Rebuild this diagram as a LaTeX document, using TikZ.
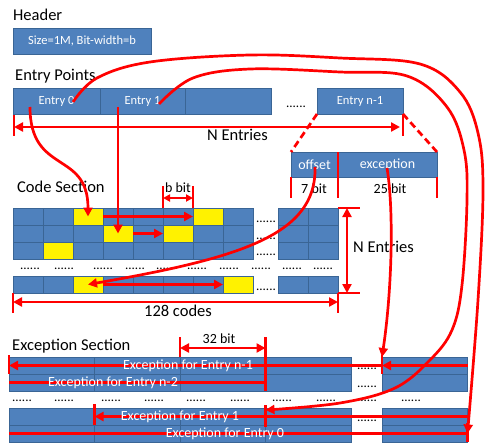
\documentclass[tikz,border=0pt]{standalone}
\usepackage{fontspec}
\setmainfont{Carlito}
\usepackage{tikz}
\usetikzlibrary{arrows.meta, positioning}

\definecolor{boxblue}{HTML}{4F81BD}
\definecolor{boxedge}{HTML}{3A6595}

\tikzset{
  block/.style={draw=boxedge, line width=0.8pt, fill=boxblue, text=white,
    inner sep=0pt, outer sep=0pt, font=\fontsize{12.5}{13}\selectfont},
  cell/.style={block, anchor=north west, minimum width=30pt, minimum height=17pt},
  hit/.style={cell, fill=yellow},
  excell/.style={block, anchor=north west, minimum width=85.5pt, minimum height=17pt},
  seclabel/.style={anchor=base west, inner sep=0pt, font=\fontsize{16.5}{18}\selectfont},
  bitlabel/.style={anchor=base, inner sep=0pt, font=\fontsize{14}{15}\selectfont},
  dotrow/.style={anchor=base, inner sep=0pt, font=\fontsize{13}{13}\selectfont},
  extext/.style={text=white, inner sep=0pt, font=\fontsize{14}{15}\selectfont},
  redline/.style={draw=red, line width=2.7pt},
  redarrow/.style={redline, ->},
  redboth/.style={redline, <->},
}

\begin{document}
\begin{tikzpicture}[x=1pt, y=-1pt, >={Triangle[length=9pt,width=9pt]}]
\useasboundingbox (0,0) rectangle (487,444);

% Header
\node[seclabel] (hdrlbl) at (13,21) {Header};
\node[block, minimum width=138pt, minimum height=26pt] (hdr) at (82,41) {Size=1M, Bit-width=b};

% Entry points
\node[seclabel] (eplbl) at (15,81) {Entry Points};
\node[block, minimum width=87pt, minimum height=26pt] (e0) at (56.5,101) {Entry 0};
\node[block, minimum width=85pt, minimum height=26pt, right=0pt of e0] (e1) {Entry 1};
\node[block, minimum width=86pt, minimum height=26pt, right=0pt of e1] (e2) {};
\node[dotrow] (edots) at (296,107) {......};
\node[block, minimum width=86pt, minimum height=26pt] (en) at (360,101) {Entry n-1};

% N Entries span
\coordinate (nspanl) at (14,127);
\coordinate (nspanr) at (400,127);
\draw[redline] (e0.south west) ++(1,1) -- ++(0,21);
\draw[redline] (en.south east) -- ++(0,22);
\draw[redboth] (nspanl) -- (nspanr);
\node[seclabel] (nlbl) at (207,140) {N Entries};

% one entry = offset + exception
\node[block, minimum width=47pt, minimum height=25pt, font=\fontsize{14}{15}\selectfont] (off) at (314.5,164.5) {offset};
\node[block, minimum width=99pt, minimum height=25pt, font=\fontsize{14}{15}\selectfont, right=0pt of off] (exc) {exception};
\draw[redline, dash pattern=on 7pt off 4pt] (en.south west) -- (off.north west);
\draw[redline, dash pattern=on 7pt off 4pt] (en.south east) -- (exc.north east);
\draw[redline] (off.south west) -- ++(0,21);
\draw[redline] (off.north east) -- ++(0,46);
\draw[redline] (exc.south east) -- ++(0,21);
\node[bitlabel] (b7) at (314,193) {7 bit};
\node[bitlabel] (b25) at (390,193) {25 bit};

% Code section
\node[seclabel] (cslbl) at (17,192) {Code Section};
\foreach \r/\y in {1/208, 2/225, 3/242, 4/276} {
  \foreach \c in {1,...,8}
    \node[cell] (c\r-\c) at ({13+30*(\c-1)},\y) {};
  \node[cell] (c\r-9) at (278,\y) {};
  \node[cell] (c\r-10) at (308,\y) {};
}
\foreach \r/\c in {1/3, 1/7, 2/4, 2/6, 3/2, 4/3, 4/8}
  \node[hit] (h\r-\c) at (c\r-\c.north west) {};
\foreach \y in {222, 239, 255, 290}
  \node[dotrow] at (266,\y) {......};
\foreach \x in {30, 64, 103, 135, 166, 197, 229, 261, 292, 323}
  \node[dotrow] at (\x,269) {......};

% b bit
\draw[redline] (c1-6.north west) -- ++(0,-22);
\draw[redline] (c1-7.north west) -- ++(0,-22);
\draw[redboth, >={Triangle[length=7pt,width=7pt]}] ([yshift=10pt]c1-6.north west) -- ([yshift=10pt]c1-7.north west);
\node[bitlabel] (bb) at (178,192) {b bit};

% jumps inside rows
\draw[redarrow] (c1-4.west) -- (c1-7.west);
\draw[redarrow] (c2-5.west) -- (c2-6.west);
\draw[redarrow] (c4-4.west) -- (c4-8.west);

% N Entries (rows)
\draw[redline] (c1-10.north east) -- ++(22,0);
\draw[redline] (c4-10.south east) -- ++(22,0);
\draw[redboth] ([xshift=9pt]c1-10.north east) -- ([xshift=9pt]c4-10.south east);
\node[seclabel] (nrlbl) at (353,252) {N Entries};

% 128 codes
\draw[redline] (c4-1.south west) -- ++(0,20);
\draw[redline] (c4-10.south east) -- ++(0,20);
\draw[redboth] ([yshift=-9pt]c4-1.south west) -- ([yshift=-9pt]c4-10.south east);
\node[seclabel, anchor=base] (cdlbl) at (178,316) {128 codes};

% Exception section
\node[seclabel] (exlbl) at (12,350) {Exception Section};
\foreach \r/\y in {1/357, 2/374, 3/408, 4/425} {
  \foreach \c in {1,...,4}
    \node[excell] (x\r-\c) at ({9+85.5*(\c-1)},\y) {};
  \node[excell] (x\r-5) at (382,\y) {};
}
\foreach \y in {369, 387, 421}
  \node[dotrow] at (367,\y) {......};
\foreach \x in {22, 64, 111, 154, 196, 240, 282, 326, 367, 411}
  \node[dotrow] at (\x,401) {......};

% 32 bit
\draw[redline] (x1-3.north west) -- ++(0,-20);
\draw[redline] (x2-4.south west) -- ++(0,-54);
\draw[redboth] ([yshift=9pt]x1-3.north west) -- ([yshift=9pt]x1-4.north west);
\node[bitlabel] (b32) at (219,343) {32 bit};

% exception chains
\draw[redline] (x1-1.north west) ++(0,-2) -- (x1-1.south west);
\draw[redline] (x1-5.north west) ++(0,-2) -- (x1-5.south west);
\draw[redarrow] (x1-5.east) -- (x1-5.west);
\draw[redarrow] (x1-5.west) -- (x1-1.west);
\draw[redline] (x2-1.west) -- (x2-4.west);
\draw[redline] (x3-2.north west) ++(0,-4) -- (x3-2.south west);
\draw[redline] (x3-4.north west) ++(0,-3) -- ++(0,22);
\draw[redarrow] (x3-5.east) -- (x3-2.west);
\draw[redline] (x4-1.west) -- (x4-5.east);
\draw[redline] (x4-5.north east) ++(0,-2) -- (x4-5.south east);

% pointers from entries
\coordinate (e0code) at (30,107);
\coordinate (e0up) at (73,102);
\coordinate (e1code) at (118,107);
\coordinate (e1up) at (159,104);
\coordinate (offdn) at (315,167);
\coordinate (excdn) at (387,168);
\draw[redarrow] (e0code) .. controls (30,175) and (88,150) .. (c1-3.center);
\draw[redarrow] (e1code) -- (c2-4.center);
\draw[redarrow] (offdn) .. controls (317,235) and (240,258) .. (c4-3.center);
\draw[redarrow] (excdn) .. controls (394,210) and (392,290) .. (x1-5.north west);
\draw[redarrow] plot[smooth, tension=0.6] coordinates {(e0up) (97,78) (150,62) (250,55) (340,58) (420,64) (460,92) (478,133) (483,190) (478,300) (x4-5.east)};
\draw[redarrow] plot[smooth, tension=0.6] coordinates {(e1up) (193,78) (250,69) (340,72) (407,76) (447,107) (464,150) (467,200) (462,285) (452,330) (430,360) (395,388) (340,403) (x3-4.north west |- 0,410)};

% exception texts
\node[extext] (t1) at (188,365.5) {Exception for Entry n-1};
\node[extext] (t2) at (113,382.5) {Exception for Entry n-2};
\node[extext] (t3) at (180,416.5) {Exception for Entry 1};
\node[extext] (t4) at (225,433.5) {Exception for Entry 0};
\end{tikzpicture}
\end{document}
